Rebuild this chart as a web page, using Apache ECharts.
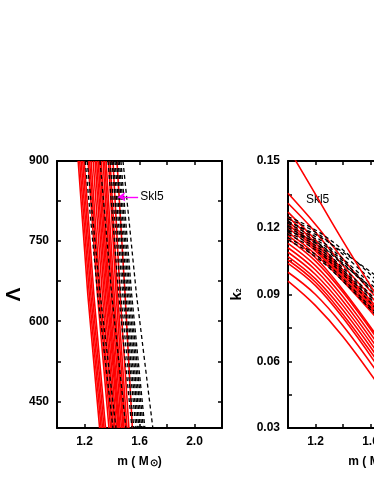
<!DOCTYPE html>
<html>
<head>
<meta charset="utf-8">
<script src="https://cdn.jsdelivr.net/npm/echarts@6/dist/echarts.min.js"></script>
<style>
  html, body { margin: 0; padding: 0; background: #fff; }
  #chart { width: 374px; height: 484px; }
</style>
</head>
<body>
<div id="chart"></div>
<script>
// left panel: mass (M_sun) of each curve at these Lambda levels
const lambdaLevels = [900, 650, 400];
const leftRed = [
  [1.154, 1.224, 1.310], [1.165, 1.235, 1.321], [1.176, 1.246, 1.331],
  [1.187, 1.257, 1.342], [1.198, 1.268, 1.353], [1.226, 1.294, 1.378],
  [1.237, 1.306, 1.390], [1.248, 1.316, 1.400], [1.263, 1.330, 1.411],
  [1.277, 1.342, 1.422], [1.288, 1.353, 1.433], [1.299, 1.364, 1.444],
  [1.310, 1.373, 1.451], [1.321, 1.383, 1.458], [1.335, 1.395, 1.469],
  [1.346, 1.406, 1.480], [1.357, 1.416, 1.487], [1.375, 1.430, 1.498],
  [1.386, 1.441, 1.509], [1.407, 1.459, 1.523]
];
const leftSkl5 = [1.436, 1.495, 1.548];
const leftDashed = [
  [1.205, 1.296, 1.407], [1.219, 1.314, 1.429], [1.313, 1.398, 1.501],
  [1.371, 1.449, 1.545], [1.386, 1.464, 1.559], [1.400, 1.478, 1.574],
  [1.411, 1.489, 1.585], [1.422, 1.500, 1.596], [1.433, 1.511, 1.606],
  [1.444, 1.522, 1.617], [1.454, 1.532, 1.628], [1.465, 1.543, 1.639],
  [1.480, 1.578, 1.697]
];

// right panel: k2 of each curve at these masses
const massLevels = [1.0, 1.2, 1.4, 1.65];
const rightRed = [
  [0.1355, 0.1215, 0.1060, 0.0880], [0.1310, 0.1180, 0.1030, 0.0860],
  [0.1270, 0.1145, 0.1010, 0.0840], [0.1250, 0.1130, 0.1000, 0.0830],
  [0.1230, 0.1115, 0.0990, 0.0820], [0.1215, 0.1105, 0.0980, 0.0810],
  [0.1200, 0.1095, 0.0970, 0.0800], [0.1180, 0.1080, 0.0960, 0.0790],
  [0.1165, 0.1065, 0.0920, 0.0710], [0.1150, 0.1050, 0.0910, 0.0700],
  [0.1130, 0.1030, 0.0890, 0.0680], [0.1110, 0.1010, 0.0870, 0.0660],
  [0.1090, 0.0990, 0.0850, 0.0640], [0.1070, 0.0970, 0.0830, 0.0620],
  [0.1055, 0.0955, 0.0810, 0.0600], [0.1040, 0.0940, 0.0795, 0.0580],
  [0.1000, 0.0900, 0.0760, 0.0550], [0.0960, 0.0850, 0.0710, 0.0500]
];
const rightSkl5 = [0.156, 0.135, 0.114, 0.089];
const rightDashed = [
  [0.125, 0.119, 0.110, 0.096], [0.124, 0.118, 0.108, 0.094],
  [0.123, 0.116, 0.106, 0.092], [0.122, 0.115, 0.105, 0.090],
  [0.121, 0.114, 0.104, 0.089], [0.120, 0.113, 0.102, 0.087],
  [0.119, 0.112, 0.101, 0.086], [0.118, 0.111, 0.100, 0.085],
  [0.117, 0.110, 0.099, 0.083], [0.1155, 0.108, 0.097, 0.081],
  [0.1145, 0.107, 0.096, 0.080], [0.1225, 0.117, 0.109, 0.098],
  [0.1185, 0.1135, 0.1035, 0.091]
];

const massTickLabels = [1.2, 1.6, 2.0];
const lambdaTicks = [450, 525, 600, 675, 750, 825, 900];
const lambdaTickLabels = [450, 600, 750, 900];
const k2TickLabels = [0.03, 0.06, 0.09, 0.12, 0.15];

const font = 'Liberation Sans, Arial, sans-serif';
const RED = '#ff0000';

var myChart = echarts.init(document.getElementById('chart'), null, { renderer: 'canvas' });

const line = function (xi, pts, color, dashed) {
  return {
    type: 'line', xAxisIndex: xi, yAxisIndex: xi, data: pts,
    symbol: 'none', silent: true, smooth: xi === 1 ? 0.4 : false,
    lineStyle: { color: color, width: dashed ? 1.3 : 1.6, type: dashed ? [4, 3] : 'solid' }
  };
};
const leftPts = function (arr) { return arr.map((m, i) => [m, lambdaLevels[i]]); };
const rightPts = function (arr) { return arr.map((k, i) => [massLevels[i], k]); };

const massAxis = function (g, pos, showLabel) {
  return {
    type: 'value', gridIndex: g, position: pos, min: 1.0, max: 2.2, interval: 0.2,
    axisLine: { show: true, onZero: false, lineStyle: { color: '#000', width: 2 } },
    axisTick: { show: true, inside: true, length: 4, lineStyle: { color: '#000', width: 1.5 } },
    axisLabel: {
      show: showLabel, color: '#000', fontFamily: font, fontWeight: 'bold', fontSize: 12, margin: 8,
      formatter: v => massTickLabels.some(t => Math.abs(t - v) < 1e-6) ? v.toFixed(1) : ''
    },
    splitLine: { show: false },
    name: showLabel ? '{b|m ( M}{s|⊙}{b|)}' : '',
    nameLocation: 'middle', nameGap: 27,
    nameTextStyle: {
      rich: {
        b: { fontFamily: font, fontWeight: 'bold', fontSize: 12, color: '#000' },
        s: { fontFamily: font, fontWeight: 'bold', fontSize: 10, color: '#000', padding: [3, 0, 0, 1] }
      }
    }
  };
};

const option = {
  animation: false,
  backgroundColor: '#fff',
  grid: [
    { left: 57, top: 161, width: 165, height: 267, outerBoundsMode: 'none', containLabel: false },
    { left: 288, top: 161, width: 165, height: 267, outerBoundsMode: 'none', containLabel: false }
  ],
  xAxis: [
    massAxis(0, 'bottom', true), massAxis(1, 'bottom', true),
    massAxis(0, 'top', false), massAxis(1, 'top', false)
  ],
  yAxis: [
    {
      type: 'value', gridIndex: 0, min: 400, max: 900, interval: 50,
      axisLine: { show: true, onZero: false, lineStyle: { color: '#000', width: 2 } },
      axisTick: { show: true, inside: true, length: 4, customValues: lambdaTicks, lineStyle: { color: '#000', width: 1.5 } },
      axisLabel: { customValues: lambdaTickLabels, color: '#000', fontFamily: font, fontWeight: 'bold', fontSize: 12, margin: 8 },
      splitLine: { show: false },
      name: 'Λ', nameLocation: 'middle', nameGap: 32, nameRotate: 90,
      nameTextStyle: { fontFamily: font, fontWeight: 'bold', fontSize: 21, color: '#000' }
    },
    {
      type: 'value', gridIndex: 1, min: 0.03, max: 0.15, interval: 0.015,
      axisLine: { show: true, onZero: false, lineStyle: { color: '#000', width: 2 } },
      axisTick: { show: true, inside: true, length: 4, lineStyle: { color: '#000', width: 1.5 } },
      axisLabel: {
        customValues: k2TickLabels, color: '#000', fontFamily: font, fontWeight: 'bold', fontSize: 12, margin: 8,
        formatter: v => v.toFixed(2)
      },
      splitLine: { show: false },
      name: '{k|k}{s|2}', nameLocation: 'middle', nameGap: 44, nameRotate: 90,
      nameTextStyle: {
        rich: {
          k: { fontFamily: font, fontWeight: 'bold', fontSize: 15, color: '#000' },
          s: { fontFamily: font, fontWeight: 'bold', fontSize: 7, color: '#000', padding: [6, 0, 0, 0] }
        }
      }
    },
    {
      type: 'value', gridIndex: 0, position: 'right', min: 400, max: 900, interval: 50,
      axisLine: { show: true, onZero: false, lineStyle: { color: '#000', width: 2 } },
      axisTick: { show: true, inside: true, length: 4, customValues: lambdaTicks, lineStyle: { color: '#000', width: 1.5 } },
      axisLabel: { show: false }, splitLine: { show: false }
    },
    {
      type: 'value', gridIndex: 1, position: 'right', min: 0.03, max: 0.15, interval: 0.015,
      axisLine: { show: true, onZero: false, lineStyle: { color: '#000', width: 2 } },
      axisTick: { show: true, inside: true, length: 4, lineStyle: { color: '#000', width: 1.5 } },
      axisLabel: { show: false }, splitLine: { show: false }
    }
  ],
  series: []
};

leftRed.forEach(c => option.series.push(line(0, leftPts(c), RED, false)));
const skl5L = line(0, leftPts(leftSkl5), RED, false);
skl5L.markLine = {
  silent: true, symbol: ['none', 'arrow'], symbolSize: 7,
  lineStyle: { color: '#ff00ff', width: 1.4, type: 'solid' },
  label: { show: false },
  data: [[{ coord: [1.59, 833] }, { coord: [1.445, 833] }]]
};
skl5L.markPoint = {
  silent: true, symbol: 'circle', symbolSize: 1, itemStyle: { color: 'rgba(0,0,0,0)' },
  label: { show: true, position: 'right', distance: 1, formatter: 'Skl5', color: '#000', fontFamily: font, fontSize: 12 },
  data: [{ coord: [1.595, 833] }]
};
option.series.push(skl5L);
leftDashed.forEach(c => option.series.push(line(0, leftPts(c), '#000', true)));

rightRed.forEach(c => option.series.push(line(1, rightPts(c), RED, false)));
rightDashed.forEach(c => option.series.push(line(1, rightPts(c), '#000', true)));
const skl5R = line(1, rightPts(rightSkl5), RED, false);
skl5R.z = 5;
skl5R.markPoint = {
  silent: true, symbol: 'circle', symbolSize: 1, itemStyle: { color: 'rgba(0,0,0,0)' },
  label: {
    show: true, position: 'inside', formatter: 'Skl5', color: '#000', fontFamily: font, fontSize: 12,
    backgroundColor: '#fff', padding: [1, 1]
  },
  data: [{ coord: [1.215, 0.1325] }]
};
option.series.push(skl5R);

option && myChart.setOption(option);
</script>
</body>
</html>
